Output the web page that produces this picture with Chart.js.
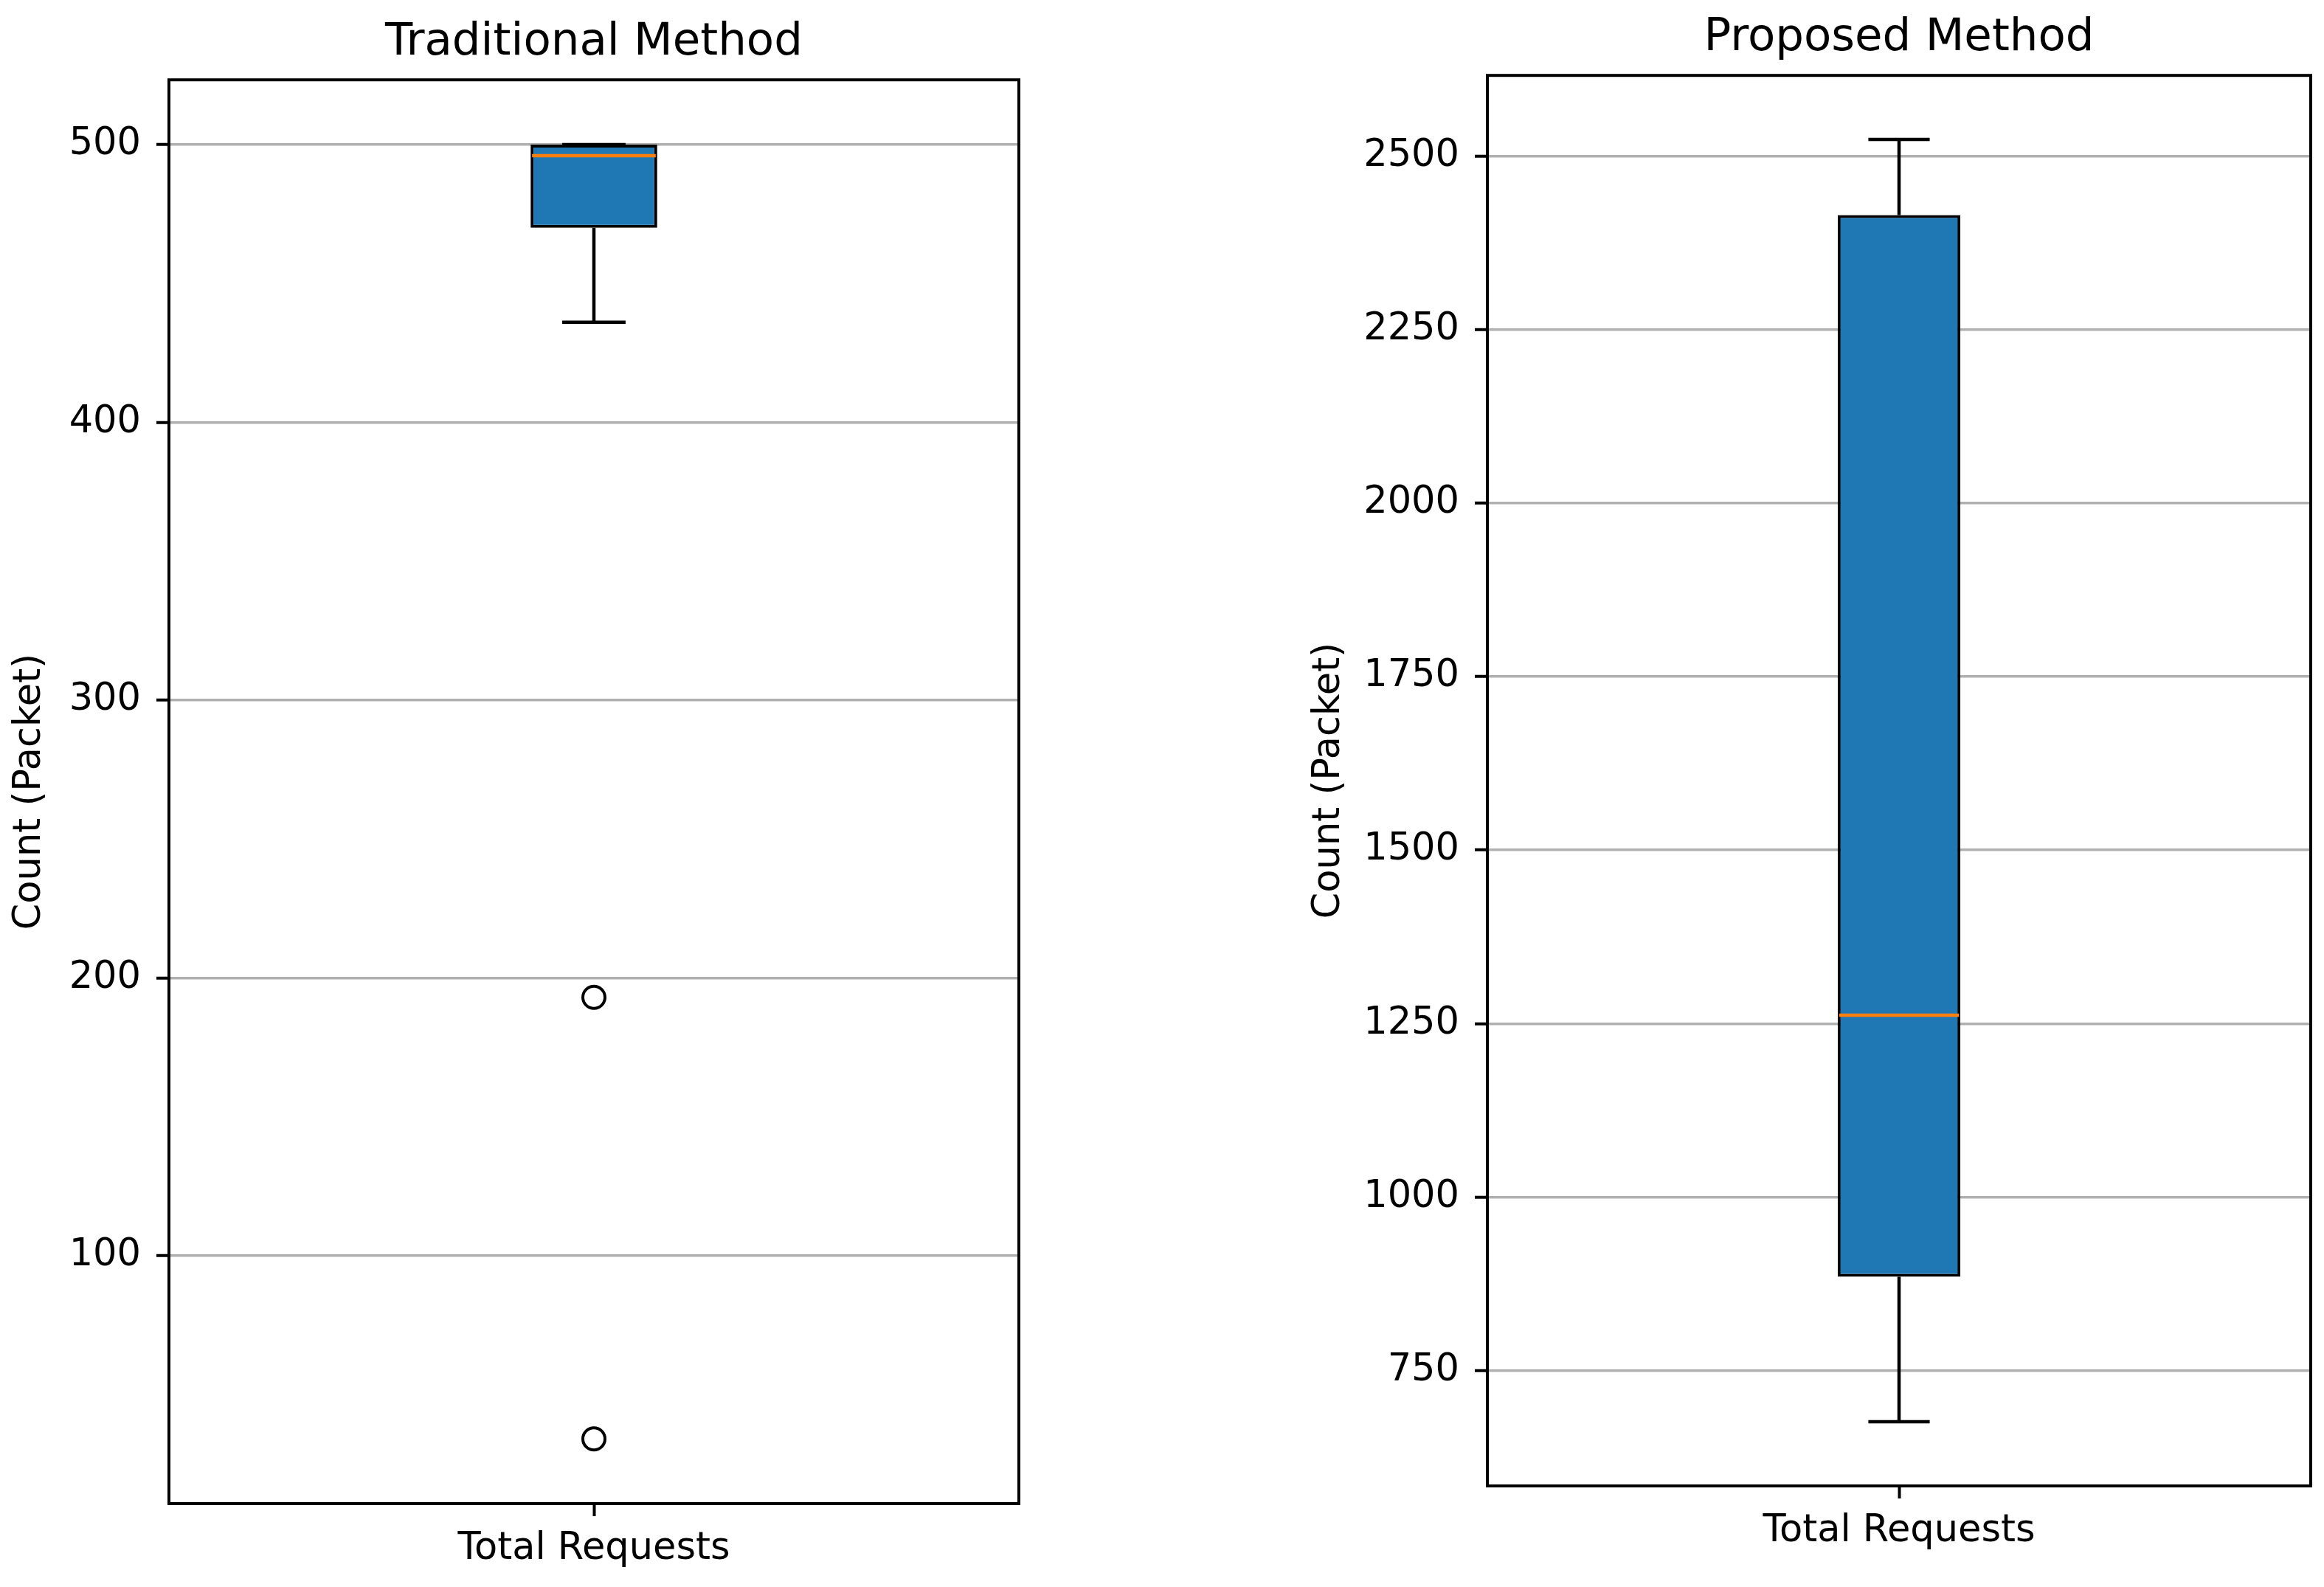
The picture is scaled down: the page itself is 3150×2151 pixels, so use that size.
<!DOCTYPE html>
<html>
<head>
<meta charset="utf-8">
<script src="https://cdn.jsdelivr.net/npm/chart.js@4.4.1/dist/chart.umd.min.js"></script>
<style>
  html, body { margin: 0; padding: 0; background: #fff; }
  body { width: 3150px; height: 2151px; position: relative; overflow: hidden; }
  canvas { position: absolute; top: 0; }
</style>
</head>
<body>
<canvas id="tradChart" width="1400" height="2151" style="left:0px"></canvas>
<canvas id="propChart" width="1410" height="2151" style="left:1740px"></canvas>
<script>
// data
const categories = ['Total Requests'];

const tradBox = [470, 500];        // q1, q3
const tradMedian = [496];
const tradWhiskers = [436, 500];   // low, high
const tradOutliers = [193, 34];
const tradTicks = [100, 200, 300, 400, 500];

const propBox = [885, 2415];
const propMedian = [1262];
const propWhiskers = [676, 2524];
const propOutliers = [];
const propTicks = [750, 1000, 1250, 1500, 1750, 2000, 2250, 2500];

const FONT = 'DejaVu Sans';

// whiskers, caps and median line for the box drawn as a floating bar
const boxParts = {
  id: 'boxParts',
  afterDatasetsDraw(chart, args, opts) {
    const {ctx} = chart;
    const y = chart.scales.y;
    const bar = chart.getDatasetMeta(0).data[0];
    const cx = bar.x, half = bar.width / 2, cap = bar.width / 4;
    const yq1 = y.getPixelForValue(opts.box[0]);
    const yq3 = y.getPixelForValue(opts.box[1]);
    const ylo = y.getPixelForValue(opts.whiskers[0]);
    const yhi = y.getPixelForValue(opts.whiskers[1]);
    const ymed = y.getPixelForValue(opts.median);
    ctx.save();
    ctx.strokeStyle = '#000';
    ctx.lineWidth = 4.5;
    ctx.beginPath();
    ctx.moveTo(cx, yq1); ctx.lineTo(cx, ylo);
    ctx.moveTo(cx, yq3); ctx.lineTo(cx, yhi);
    ctx.moveTo(cx - cap, ylo); ctx.lineTo(cx + cap, ylo);
    ctx.moveTo(cx - cap, yhi); ctx.lineTo(cx + cap, yhi);
    ctx.stroke();
    ctx.strokeStyle = '#ff7f0e';
    ctx.lineWidth = 4.5;
    ctx.beginPath();
    ctx.moveTo(cx - half + 2, ymed); ctx.lineTo(cx + half - 2, ymed);
    ctx.stroke();
    ctx.restore();
  }
};

// axes frame on all four sides
const frame = {
  id: 'frame',
  afterDraw(chart) {
    const {ctx, chartArea: a} = chart;
    ctx.save();
    ctx.strokeStyle = '#000';
    ctx.lineWidth = 4;
    ctx.strokeRect(a.left, a.top, a.right - a.left, a.bottom - a.top);
    ctx.restore();
  }
};

function makeBox(id, title, box, median, whiskers, outliers, ticks, axisW, axisH, padRight, titlePad, yTitlePad) {
  const all = whiskers.concat(outliers);
  const lo = Math.min(...all), hi = Math.max(...all);
  const margin = (hi - lo) * 0.05;

  new Chart(document.getElementById(id), {
    data: {
      labels: categories,
      datasets: [{
        type: 'bar',
        data: [box],
        backgroundColor: '#1f77b4',
        borderColor: '#000',
        borderWidth: 4,
        borderSkipped: false,
        barPercentage: 0.149,
        categoryPercentage: 1
      }, {
        type: 'line',
        data: outliers.map(v => ({x: categories[0], y: v})),
        showLine: false,
        pointRadius: 15,
        pointBorderWidth: 4,
        pointBorderColor: '#000',
        pointBackgroundColor: 'rgba(0,0,0,0)'
      }]
    },
    options: {
      responsive: false,
      devicePixelRatio: 1,
      animation: false,
      layout: { padding: { left: 0, right: padRight, top: 0, bottom: 0 } },
      plugins: {
        legend: { display: false },
        tooltip: { enabled: false },
        title: {
          display: true,
          fullSize: false,
          text: title,
          color: '#000',
          font: { family: FONT, size: 61, weight: 'normal' },
          padding: titlePad
        },
        boxParts: { box: box, median: median[0], whiskers: whiskers }
      },
      scales: {
        x: {
          offset: true,
          grid: { display: true, drawOnChartArea: false, offset: false, tickColor: '#000', tickWidth: 4, tickLength: 17 },
          border: { display: false },
          ticks: { color: '#000', padding: 14, font: { family: FONT, size: 51 } },
          afterFit(s) { s.height = axisH; }
        },
        y: {
          min: lo - margin,
          max: hi + margin,
          afterBuildTicks(s) { s.ticks = ticks.map(v => ({value: v})); },
          grid: { color: '#b0b0b0', lineWidth: 3.5, tickColor: '#000', tickWidth: 4, tickLength: 17 },
          border: { display: false },
          ticks: { color: '#000', padding: 21, font: { family: FONT, size: 51 }, callback: v => String(v) },
          title: {
            display: true,
            text: 'Count (Packet)',
            color: '#000',
            font: { family: FONT, size: 51 },
            padding: { top: yTitlePad, bottom: 0 }
          },
          afterFit(s) { s.width = axisW; }
        }
      }
    },
    plugins: [boxParts, frame]
  });
}

makeBox('tradChart', 'Traditional Method', tradBox, tradMedian, tradWhiskers, tradOutliers, tradTicks,
  229, 113, 15, { top: 22, bottom: 13 }, 10);
makeBox('propChart', 'Proposed Method', propBox, propMedian, propWhiskers, propOutliers, propTicks,
  276, 137, 18, { top: 16, bottom: 13 }, 31);
</script>
</body>
</html>
